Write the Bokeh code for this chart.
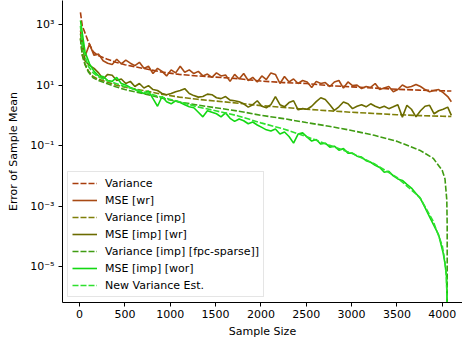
from bokeh.plotting import figure
from bokeh.models import FixedTicker, Legend, LegendItem, Range1d, CustomJSTickFormatter
from bokeh.embed import file_html
from bokeh.resources import INLINE

# ---- data (log10 of error) ----
n_wr = [10, 60, 110, 160, 210, 260, 310, 360, 410, 460, 510, 560, 610, 660, 710, 760, 810, 860, 910, 960,
        1010, 1060, 1110, 1160, 1210, 1260, 1310, 1360, 1410, 1460, 1510, 1560, 1610, 1660, 1710, 1760, 1810,
        1860, 1910, 1960, 2010, 2060, 2110, 2160, 2210, 2260, 2310, 2360, 2410, 2460, 2510, 2560, 2610, 2660,
        2710, 2760, 2810, 2860, 2910, 2960, 3010, 3060, 3110, 3160, 3210, 3260, 3310, 3360, 3410, 3460, 3510,
        3560, 3610, 3660, 3710, 3760, 3810, 3860, 3910, 3960, 4010, 4060, 4100]

mse_wr_log = [2.8, 1.95, 2.35, 1.98, 2.02, 1.8, 1.72, 1.68, 1.85, 1.7,
              1.82, 1.72, 1.64, 1.75, 1.55, 1.62, 1.38, 1.55, 1.45, 1.3,
              1.5, 1.4, 1.62, 1.42, 1.5, 1.38, 1.45, 1.3, 1.36, 1.25,
              1.4, 1.3, 1.33, 1.12, 1.35, 1.2, 1.38, 1.15, 1.25, 1.1,
              1.3, 1.18, 1.4, 1.35, 1.05, 1.28, 1.1, 1.2, 1.05, 1.15,
              1.1, 0.92, 1.12, 1.05, 1.08, 0.95, 1.1, 1.15, 0.9, 1.1,
              0.98, 1.0, 0.88, 0.95, 0.92, 1.05, 0.85, 0.9, 0.95, 0.78,
              0.85, 1.0, 0.92, 0.95, 1.02, 0.95, 0.85, 0.78, 0.82, 0.85,
              0.75, 0.62, 0.45]

mse_imp_wr_log = [2.7, 1.8, 1.65, 1.55, 1.4, 1.2, 1.35, 1.32, 1.15, 1.2,
                  1.05, 1.12, 0.95, 1.05, 0.9, 0.98, 0.85, 0.82, 0.72, 0.68,
                  0.72, 0.78, 0.82, 0.88, 0.72, 0.65, 0.6, 0.62, 0.7, 0.68,
                  0.58, 0.55, 0.62, 0.5, 0.48, 0.45, 0.38, 0.27, 0.35, 0.48,
                  0.3, 0.25, 0.35, 0.62, 0.35, 0.28, 0.42, 0.48, 0.18, 0.22,
                  0.2, 0.3, 0.45, 0.58, 0.52, 0.35, 0.16, 0.28, 0.44, 0.38,
                  0.22, 0.3, 0.35, 0.28, 0.38, 0.3, 0.24, 0.3, 0.22, 0.28,
                  0.35, -0.06, 0.33, 0.2, -0.05, 0.15, 0.3, 0.33, 0.05, 0.15,
                  0.2, 0.27, 0.0]

n_wor = [10, 60, 110, 160, 210, 260, 310, 360, 410, 460, 510, 560, 610, 660, 710, 760, 810, 860, 910, 960,
         1010, 1060, 1110, 1160, 1210, 1260, 1310, 1360, 1410, 1460, 1510, 1560, 1610, 1660, 1710, 1760, 1810,
         1860, 1910, 1960, 2010, 2060, 2110, 2160, 2210, 2260, 2310, 2360, 2410, 2460, 2510, 2560, 2610, 2660,
         2710, 2760, 2810, 2860, 2910, 2960, 3010, 3060, 3110, 3160, 3210, 3260, 3310, 3360, 3410, 3460, 3510,
         3560, 3610, 3660, 3710, 3760, 3810, 3860, 3910, 3960, 4010, 4030, 4046, 4052, 4055]

mse_imp_wor_log = [3.13, 2.1, 1.7, 1.45, 1.3, 1.28, 1.15, 1.12, 1.25, 1.05,
                   1.0, 0.92, 0.85, 0.78, 0.72, 0.8, 0.55, 0.3, 0.62, 0.45,
                   0.38, 0.48, 0.42, 0.35, 0.28, 0.25, 0.1, -0.05, 0.15, 0.1,
                   0.05, -0.05, 0.08, -0.1, -0.2, -0.12, -0.18, -0.28, -0.22, -0.32,
                   -0.4, -0.48, -0.52, -0.45, -0.62, -0.55, -0.7, -0.92, -0.62, -0.58,
                   -0.72, -0.85, -0.8, -0.95, -0.92, -1.05, -1.02, -1.15, -1.1, -1.25,
                   -1.25, -1.35, -1.38, -1.5, -1.55, -1.65, -1.72, -1.88, -1.85, -2.0,
                   -2.1, -2.15, -2.28, -2.4, -2.58, -2.75, -3.05, -3.35, -3.65, -3.95,
                   -4.55, -4.9, -5.3, -6.0, -9.0]

n_var = [10, 30, 60, 100, 150, 200, 300, 400, 500, 700, 900, 1100, 1300, 1500, 1750, 2000,
         2250, 2500, 2750, 3000, 3250, 3500, 3750, 4000, 4100]
var_log = [3.4, 2.95, 2.72, 2.4, 2.1, 1.98, 1.86, 1.75, 1.67, 1.55, 1.43, 1.35, 1.3, 1.26, 1.21, 1.13,
           1.08, 1.05, 0.98, 0.94, 0.9, 0.86, 0.83, 0.81, 0.80]
var_imp_log = [2.55, 2.0, 1.7, 1.45, 1.28, 1.2, 1.1, 1.0, 0.93, 0.82, 0.7, 0.6, 0.53, 0.47, 0.4, 0.32,
               0.26, 0.2, 0.15, 0.1, 0.06, 0.02, -0.01, -0.03, -0.04]

n_fpc = [10, 30, 60, 100, 150, 200, 300, 400, 500, 700, 900, 1100, 1300, 1500, 1750, 2000,
         2250, 2500, 2750, 3000, 3250, 3500, 3750, 3900, 4000, 4030, 4050, 4054, 4055]
var_fpc_log = [2.53, 1.98, 1.67, 1.42, 1.24, 1.16, 1.05, 0.94, 0.85, 0.72, 0.57, 0.44, 0.34, 0.25, 0.14, 0.0,
               -0.11, -0.24, -0.36, -0.5, -0.66, -0.86, -1.15, -1.42, -1.82, -2.1, -2.8, -3.6, -9.0]

n_new = [10, 30, 60, 100, 150, 200, 300, 400, 500, 700, 900, 1100, 1300, 1500, 1750, 2000,
         2250, 2500, 2750, 3000, 3250, 3500, 3750, 3900, 4000, 4030, 4045, 4052, 4055]
new_var_log = [2.95, 2.3, 1.95, 1.6, 1.4, 1.28, 1.15, 1.05, 0.95, 0.78, 0.6, 0.45, 0.28, 0.15, -0.02, -0.25,
               -0.45, -0.7, -0.98, -1.25, -1.6, -2.05, -2.7, -3.5, -4.3, -4.85, -5.3, -6.0, -9.0]

labels = ["Variance", "MSE [wr]", "Variance [imp]", "MSE [imp] [wr]",
          "Variance [imp] [fpc-sparse]]", "MSE [imp] [wor]", "New Variance Est."]
x_ticks = [0, 500, 1000, 1500, 2000, 2500, 3000, 3500, 4000]
y_ticks = [1e-5, 1e-3, 1e-1, 1e1, 1e3]


def lin(v):
    return [10 ** a for a in v]


FONT = "DejaVu Sans"
p = figure(width=462, height=348, output_backend="svg", toolbar_location=None,
           y_axis_type="log", x_range=Range1d(-188, 4223),
           y_range=Range1d(10 ** -6.18, 10 ** 3.79),
           min_border_left=62, min_border_right=0, min_border_top=0, min_border_bottom=46)
p.outline_line_color = None
p.xgrid.visible = False
p.ygrid.visible = False
p.background_fill_color = "white"

DASH = "6 2"
W = 1.6
series = [
    (n_var, var_log, "#a83c0c", DASH),
    (n_wr, mse_wr_log, "#a84a14", "solid"),
    (n_var, var_imp_log, "#7f7f08", DASH),
    (n_wr, mse_imp_wr_log, "#6b6b00", "solid"),
    (n_fpc, var_fpc_log, "#3f9c12", DASH),
    (n_wor, mse_imp_wor_log, "#12d812", "solid"),
    (n_new, new_var_log, "#2ee02e", DASH),
]
items = []
for (xs, ys, col, dash), lab in zip(series, labels):
    r = p.line(xs, lin(ys), line_color=col, line_width=W, line_dash=dash)
    items.append(LegendItem(label=lab, renderers=[r]))

legend = Legend(items=items, location=(5, 5), margin=0, padding=4, spacing=3,
                label_height=14, glyph_height=14, glyph_width=25, label_standoff=8,
                label_text_font=FONT, label_text_font_size="11px", label_text_color="black",
                border_line_color="#cccccc", border_line_width=1,
                background_fill_color="white", background_fill_alpha=0.8)
p.add_layout(legend)

for ax in (p.xaxis[0], p.yaxis[0]):
    ax.axis_line_color = "black"
    ax.axis_line_width = 1
    ax.major_tick_line_color = "black"
    ax.major_tick_in = 0
    ax.major_tick_out = 4
    ax.minor_tick_line_color = None
    ax.major_label_text_font = FONT
    ax.major_label_text_font_size = "11px"
    ax.major_label_text_color = "black"
    ax.axis_label_text_font = FONT
    ax.axis_label_text_font_size = "11px"
    ax.axis_label_text_font_style = "normal"
    ax.axis_label_text_color = "black"

p.xaxis.ticker = FixedTicker(ticks=x_ticks, minor_ticks=[])
p.yaxis.ticker = FixedTicker(ticks=y_ticks, minor_ticks=[])
p.xaxis.major_label_standoff = 3
p.yaxis.major_label_standoff = 4
p.xaxis.axis_label = "Sample Size"
p.yaxis.axis_label = "Error of Sample Mean"
p.xaxis.axis_label_standoff = 4
p.yaxis.axis_label_standoff = 7
p.yaxis.formatter = CustomJSTickFormatter(code="""
const e = Math.round(Math.log10(tick));
const m = {"-":"\u207b","0":"\u2070","1":"\u00b9","2":"\u00b2","3":"\u00b3","4":"\u2074","5":"\u2075","6":"\u2076","7":"\u2077","8":"\u2078","9":"\u2079"};
return "10" + String(e).split("").map(c => m[c]).join("");
""")

open("out.html", "w").write(file_html(p, INLINE))
